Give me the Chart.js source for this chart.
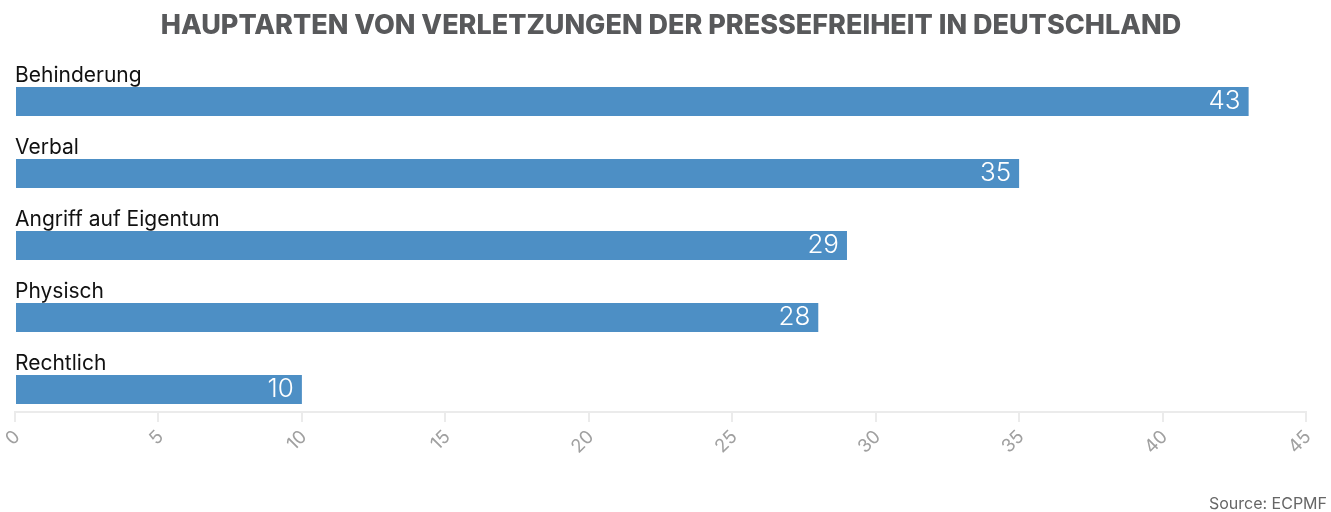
<!DOCTYPE html>
<html>
<head>
<meta charset="utf-8">
<script src="https://cdn.jsdelivr.net/npm/chart.js@4/dist/chart.umd.min.js"></script>
<style>
  html, body { margin: 0; padding: 0; background: #ffffff; }
  #wrap { width: 1331px; height: 512px; position: relative; }
</style>
</head>
<body>
<div id="wrap"><canvas id="c"></canvas></div>
<script>
const chartTitle = 'HAUPTARTEN VON VERLETZUNGEN DER PRESSEFREIHEIT IN DEUTSCHLAND';
const sourceText = 'Source: ECPMF';
const categories = ['Behinderung', 'Verbal', 'Angriff auf Eigentum', 'Physisch', 'Rechtlich'];
const values = [43, 35, 29, 28, 10];
const spacer = [null, null, null, null, null];
const xTicks = [0, 5, 10, 15, 20, 25, 30, 35, 40, 45];

const FONT = 'Inter, "Noto Sans", sans-serif';

const barLabels = {
  id: 'barLabels',
  afterDatasetsDraw(chart) {
    const ctx = chart.ctx;
    const meta = chart.getDatasetMeta(1);
    const area = chart.chartArea;
    ctx.save();
    meta.data.forEach((bar, i) => {
      const top = bar.y - bar.height / 2;
      ctx.font = '400 21px ' + FONT;
      ctx.fillStyle = '#111111';
      ctx.textAlign = 'left';
      ctx.textBaseline = 'alphabetic';
      ctx.fillText(categories[i], area.left, top - 5);
      ctx.font = '300 26px ' + FONT;
      ctx.fillStyle = '#ffffff';
      ctx.textAlign = 'right';
      ctx.textBaseline = 'middle';
      ctx.fillText(String(values[i]), bar.x - 8, bar.y);
    });
    ctx.restore();
  }
};

const sourcePlugin = {
  id: 'sourceNote',
  afterDraw(chart) {
    const ctx = chart.ctx;
    ctx.save();
    ctx.font = '400 16px ' + FONT;
    ctx.fillStyle = '#666666';
    ctx.textAlign = 'right';
    ctx.textBaseline = 'alphabetic';
    ctx.fillText(sourceText, chart.width - 4, chart.height - 3);
    ctx.restore();
  }
};

new Chart(document.getElementById('c'), {
  type: 'bar',
  data: {
    labels: categories,
    datasets: [
      { label: 'spacer', data: spacer, backgroundColor: 'rgba(0,0,0,0)' },
      { label: 'Anzahl', data: values, backgroundColor: '#4d8fc5' }
    ]
  },
  options: {
    indexAxis: 'y',
    responsive: true,
    maintainAspectRatio: false,
    animation: false,
    categoryPercentage: 0.75,
    barPercentage: 29 / 27,
    layout: { padding: { left: 15, right: 4, top: 0, bottom: 0 } },
    plugins: {
      legend: { display: false },
      tooltip: { enabled: false },
      title: {
        display: true,
        text: chartTitle,
        color: '#58595b',
        font: { family: FONT, size: 27, weight: '800', lineHeight: 1.2 },
        padding: { top: 10, bottom: 9.6 }
      }
    },
    scales: {
      y: { display: false },
      x: {
        min: 0,
        max: 45,
        afterBuildTicks: (s) => { s.ticks = xTicks.map(v => ({ value: v })); },
        afterFit: (s) => { s.height = 100; s.paddingRight = 25; },
        border: { display: true, color: '#ebebeb', width: 2 },
        grid: { drawOnChartArea: false, drawTicks: true, color: '#ebebeb', lineWidth: 2, tickLength: 10 },
        ticks: {
          minRotation: 45,
          maxRotation: 45,
          color: '#a0a0a0',
          font: { family: FONT, size: 18.5 },
          padding: 4,
          labelOffset: 2
        }
      }
    }
  },
  plugins: [barLabels, sourcePlugin]
});
</script>
</body>
</html>
